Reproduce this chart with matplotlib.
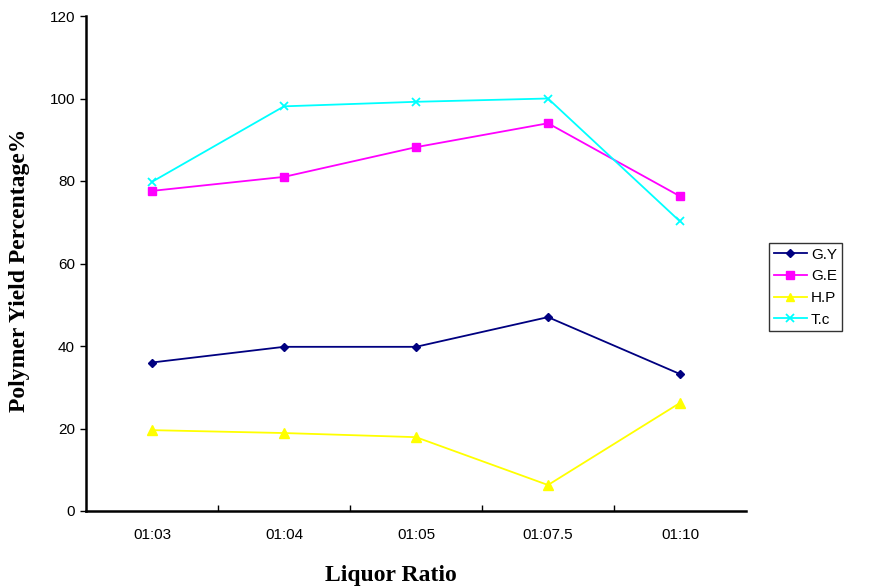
import matplotlib
matplotlib.use("Agg")
import matplotlib.pyplot as plt
import numpy as np

categories = ["01:03", "01:04", "01:05", "01:07.5", "01:10"]
gy = [36.0, 39.8, 39.8, 47.0, 33.2]
ge = [77.6, 81.0, 88.2, 94.0, 76.3]
hp = [19.6, 18.9, 17.9, 6.3, 26.2]
tc = [79.8, 98.1, 99.2, 100.0, 70.2]
yticks = [0, 20, 40, 60, 80, 100, 120]

fig = plt.figure(figsize=(8.76, 5.87), dpi=100)
ax = fig.add_axes([86/876, 1-511/587, (746-86)/876, (511-16)/587])

x = np.arange(len(categories))
ax.plot(x, gy, color="#000080", marker="D", markersize=4.5, lw=1.3, label="G.Y")
ax.plot(x, ge, color="#FF00FF", marker="s", markersize=6, lw=1.3, label="G.E")
ax.plot(x, hp, color="#FFFF00", marker="^", markersize=7, lw=1.3, label="H.P")
ax.plot(x, tc, color="#00FFFF", marker="x", markersize=6, mew=1.3, lw=1.3, label="T.c")

ax.set_xlim(-0.5, len(categories) - 0.5)
ax.set_ylim(0, 120)
ax.set_yticks(yticks)
ax.set_xticks(x)
ax.set_xticklabels(categories)
ax.set_xticks(np.arange(0.5, len(categories) - 1, 1.0), minor=True)
ax.tick_params(axis="x", which="major", length=0, pad=12)
ax.tick_params(axis="x", which="minor", direction="in", length=4, width=1)
ax.tick_params(axis="y", direction="out", length=4, width=1, pad=4)
for lab in ax.get_xticklabels() + ax.get_yticklabels():
    lab.set_fontfamily("Liberation Sans")
    lab.set_fontsize(11)

for s in ["top", "right"]:
    ax.spines[s].set_visible(False)
ax.spines["left"].set_linewidth(1.8)
ax.spines["bottom"].set_linewidth(1.8)

fig.text(20/876, 1-270/587, "Polymer Yield Percentage%", rotation=90, ha="center", va="center",
         family="Liberation Serif", weight="bold", fontsize=17)
fig.text(391/876, 1-576/587, "Liquor Ratio", ha="center", va="center",
         family="Liberation Serif", weight="bold", fontsize=17)

leg = ax.legend(loc="upper left", bbox_to_anchor=(769/876, 1-243/587), bbox_transform=fig.transFigure,
                borderaxespad=0, frameon=True, fancybox=False, edgecolor="black", borderpad=0.3,
                labelspacing=0.5, handlelength=2.2, handletextpad=0.25,
                prop={"family": "Liberation Sans", "size": 11}, markerscale=0.9)
leg.get_frame().set_linewidth(1.0)

fig.savefig("out.png", dpi=100)
